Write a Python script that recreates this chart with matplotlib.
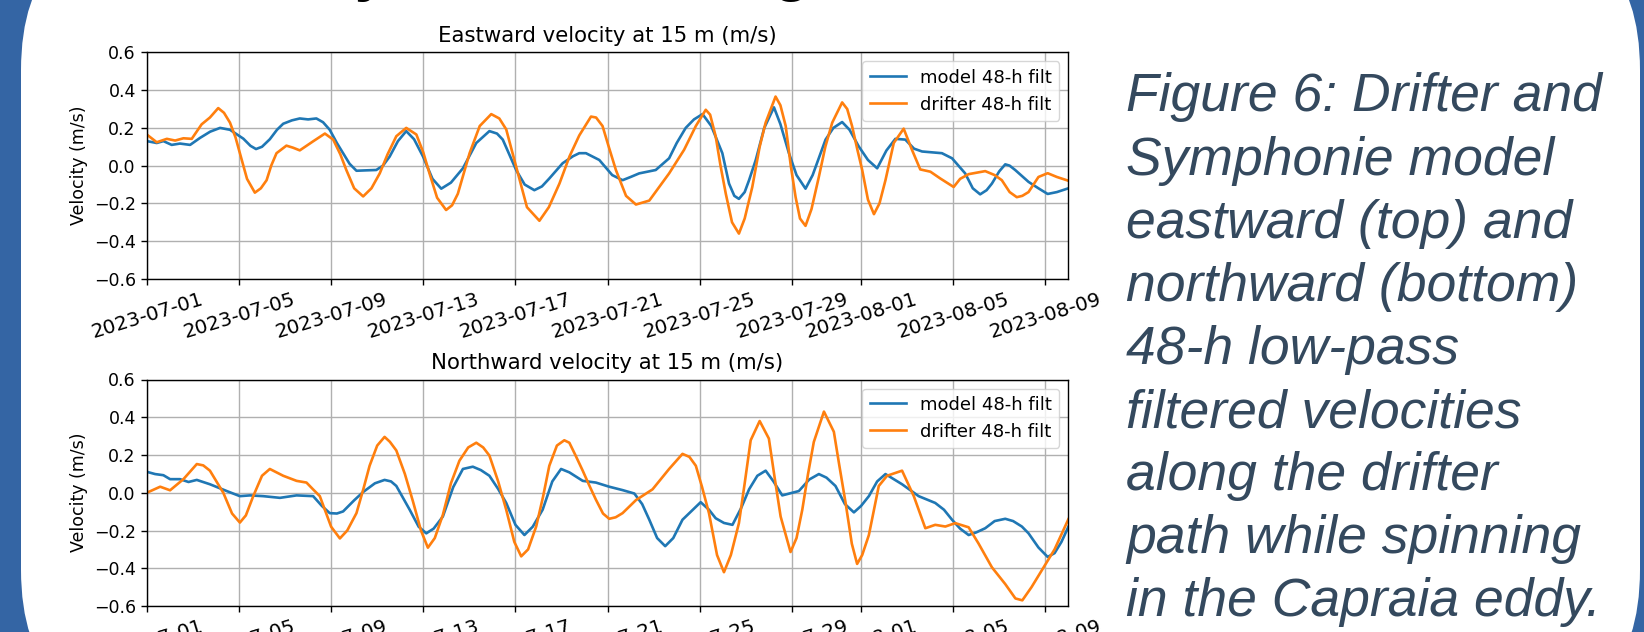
from datetime import datetime, timedelta

import matplotlib
matplotlib.use("Agg")
import matplotlib.dates as mdates
import matplotlib.patches as mpatches
from matplotlib import pyplot as plt
from matplotlib.transforms import IdentityTransform

W, H = 1644, 632
START = datetime(2023, 7, 1)

# days since 2023-07-01 and velocities (m/s)
east_model_day = [0, 0.43, 0.72, 1.08, 1.44, 1.88, 2.31, 2.75, 3.18, 3.61, 4.19,
                  4.5, 4.74, 5.0, 5.34, 5.65, 5.92, 6.3, 6.64, 7.0, 7.36, 7.65,
                  7.94, 8.25, 8.52, 8.8, 9.10, 9.5, 9.96, 10.25, 10.54, 10.9,
                  11.26, 11.6, 11.99, 12.4, 12.78, 13.2, 13.72, 14.3, 14.87, 15.2,
                  15.45, 16.03, 16.4, 16.82, 17.15, 17.47, 18.05, 18.5, 18.77,
                  19.06, 19.64, 20.2, 20.65, 21.0, 21.37, 22.09, 22.67, 23.0,
                  23.39, 23.75, 24.12, 24.5, 24.98, 25.27, 25.5, 25.70, 25.95,
                  26.14, 26.43, 26.8, 27.22, 27.5, 27.87, 28.2, 28.59, 28.9,
                  29.46, 29.8, 30.18, 30.5, 30.90, 31.3, 31.70, 32.1, 32.49,
                  32.92, 33.3, 33.65, 34.51, 34.95, 35.52, 35.85, 36.17, 36.45,
                  36.68, 37.0, 37.26, 37.45, 37.69, 38.27, 38.7, 39.1, 39.5, 40]
east_model = [0.13, 0.12, 0.13, 0.11, 0.117, 0.11, 0.147, 0.18, 0.20, 0.19, 0.143,
              0.105, 0.088, 0.1, 0.14, 0.19, 0.222, 0.24, 0.25, 0.245, 0.25, 0.23,
              0.19, 0.12, 0.066, 0.01, -0.027, -0.025, -0.023, 0.0, 0.048, 0.13,
              0.183, 0.14, 0.048, -0.07, -0.122, -0.09, -0.014, 0.12, 0.183, 0.17,
              0.138, -0.023, -0.1, -0.13, -0.11, -0.068, 0.013, 0.05, 0.066,
              0.066, 0.03, -0.05, -0.077, -0.06, -0.041, -0.023, 0.039, 0.12,
              0.20, 0.245, 0.273, 0.21, 0.066, -0.095, -0.16, -0.176, -0.14,
              -0.077, 0.03, 0.2, 0.309, 0.22, 0.066, -0.05, -0.122, -0.05,
              0.138, 0.2, 0.231, 0.19, 0.102, 0.03, -0.014, 0.08, 0.142,
              0.138, 0.09, 0.075, 0.066, 0.039, -0.041, -0.12, -0.152, -0.13,
              -0.095, -0.03, 0.007, 0.0, -0.023, -0.086, -0.12, -0.15, -0.14, -0.12]

east_drift_day = [0, 0.43, 0.87, 1.23, 1.59, 1.95, 2.38, 2.74, 3.10, 3.35, 3.61,
                  3.85, 4.04, 4.35, 4.69, 4.95, 5.20, 5.40, 5.63, 6.06, 6.35, 6.64,
                  7.22, 7.73, 8.09, 8.4, 8.66, 9.0, 9.39, 9.75, 10.11, 10.45, 10.83,
                  11.26, 11.70, 12.0, 12.27, 12.6, 12.99, 13.25, 13.50, 14.01,
                  14.45, 14.95, 15.30, 15.60, 16.03, 16.5, 17.04, 17.45, 17.91,
                  18.35, 18.77, 19.28, 19.50, 19.78, 20.05, 20.36, 20.8, 21.23,
                  21.81, 22.67, 23.32, 23.83, 24.26, 24.45, 24.69, 24.9, 25.13,
                  25.4, 25.70, 25.95, 26.28, 26.6, 26.86, 27.29, 27.5, 27.73,
                  27.95, 28.16, 28.35, 28.59, 28.85, 29.17, 29.45, 29.75, 30.18,
                  30.4, 30.61, 30.85, 31.05, 31.3, 31.56, 31.8, 32.06, 32.42,
                  32.85, 33.21, 33.57, 34.01, 34.44, 35.02, 35.3, 35.67, 36.39,
                  36.8, 37.11, 37.45, 37.76, 38.0, 38.27, 38.7, 39.1, 39.5, 40]
east_drift = [0.165, 0.124, 0.142, 0.133, 0.145, 0.142, 0.219, 0.255, 0.305, 0.28,
              0.228, 0.15, 0.066, -0.07, -0.143, -0.12, -0.077, 0.0, 0.066, 0.106,
              0.095, 0.081, 0.129, 0.170, 0.138, 0.06, -0.023, -0.12, -0.163,
              -0.12, -0.041, 0.06, 0.156, 0.20, 0.165, 0.07, -0.041, -0.17,
              -0.235, -0.21, -0.149, 0.066, 0.21, 0.273, 0.25, 0.192, -0.005,
              -0.22, -0.292, -0.22, -0.095, 0.05, 0.16, 0.26, 0.255, 0.21, 0.1,
              -0.023, -0.16, -0.206, -0.185, -0.041, 0.084, 0.21, 0.296, 0.27,
              0.156, 0.0, -0.149, -0.3, -0.36, -0.28, -0.113, 0.1, 0.228, 0.366,
              0.32, 0.21, 0.0, -0.167, -0.28, -0.319, -0.23, -0.059, 0.1, 0.228,
              0.335, 0.3, 0.21, 0.08, -0.023, -0.18, -0.257, -0.2, -0.077, 0.12,
              0.196, 0.084, -0.02, -0.032, -0.068, -0.113, -0.07, -0.045, -0.029,
              -0.05, -0.077, -0.14, -0.167, -0.16, -0.14, -0.06, -0.04, -0.06,
              -0.08]

north_model_day = [0, 0.36, 0.72, 1.01, 1.44, 1.81, 2.17, 2.74, 3.47, 4.04, 4.48,
                   5.05, 5.78, 6.50, 7.22, 7.6, 7.94, 8.25, 8.52, 9.0, 9.39, 9.9,
                   10.32, 10.6, 10.83, 11.41, 11.8, 12.13, 12.45, 12.85, 13.3,
                   13.72, 14.15, 14.5, 14.87, 15.25, 15.60, 16.0, 16.39, 16.75,
                   17.18, 17.6, 17.98, 18.34, 18.92, 19.49, 20.07, 20.65, 21.16,
                   21.5, 21.81, 22.15, 22.50, 22.85, 23.25, 24.04, 24.4, 24.69,
                   25.05, 25.42, 25.8, 26.14, 26.5, 26.86, 27.2, 27.58, 28.30,
                   28.75, 29.17, 29.5, 29.89, 30.3, 30.69, 31.0, 31.34, 31.7,
                   32.06, 32.78, 33.50, 34.22, 34.6, 34.95, 35.3, 35.67, 36.0,
                   36.39, 36.8, 37.26, 37.6, 37.98, 38.27, 38.7, 39.1, 39.4, 39.7,
                   40]
north_model = [0.111, 0.099, 0.093, 0.072, 0.072, 0.057, 0.068, 0.045, 0.009,
               -0.018, -0.014, -0.018, -0.027, -0.014, -0.018, -0.07, -0.108,
               -0.11, -0.099, -0.04, 0.004, 0.05, 0.068, 0.06, 0.036, -0.09,
               -0.18, -0.215, -0.19, -0.126, 0.03, 0.126, 0.138, 0.12, 0.09,
               0.02, -0.054, -0.17, -0.224, -0.18, -0.09, 0.06, 0.126, 0.108,
               0.063, 0.054, 0.032, 0.014, -0.004, -0.06, -0.143, -0.24, -0.283,
               -0.24, -0.143, -0.05, -0.09, -0.135, -0.16, -0.17, -0.08, 0.018,
               0.09, 0.117, 0.06, -0.014, 0.009, 0.07, 0.099, 0.08, 0.036, -0.06,
               -0.104, -0.07, -0.018, 0.06, 0.099, 0.045, -0.018, -0.054, -0.09,
               -0.143, -0.19, -0.224, -0.21, -0.188, -0.15, -0.138, -0.15,
               -0.179, -0.215, -0.29, -0.34, -0.32, -0.26, -0.18]

north_drift_day = [0, 0.58, 1.01, 1.59, 2.17, 2.45, 2.74, 3.32, 3.7, 4.04, 4.3,
                   4.62, 5.0, 5.34, 5.92, 6.50, 6.93, 7.2, 7.51, 8.0, 8.38, 8.7,
                   9.10, 9.4, 9.67, 10.0, 10.32, 10.55, 10.83, 11.2, 11.55, 11.9,
                   12.20, 12.5, 12.85, 13.2, 13.57, 13.95, 14.30, 14.6, 14.87,
                   15.25, 15.60, 15.95, 16.25, 16.55, 16.90, 17.2, 17.47, 17.8,
                   18.12, 18.34, 18.6, 18.92, 19.2, 19.49, 19.8, 20.07, 20.35,
                   20.65, 21.23, 21.95, 22.67, 23.25, 23.55, 23.83, 24.1, 24.40,
                   24.75, 25.05, 25.35, 25.70, 25.95, 26.21, 26.60, 27.00, 27.25,
                   27.51, 27.94, 28.2, 28.45, 28.7, 28.95, 29.39, 29.82, 30.05,
                   30.33, 30.6, 30.83, 31.05, 31.34, 31.77, 32.13, 32.78, 33.29,
                   33.79, 34.22, 34.66, 35.09, 35.67, 36.10, 36.68, 37.26, 37.7,
                   38.0, 38.4, 38.9, 39.4, 40]
north_drift = [0.0, 0.032, 0.013, 0.072, 0.152, 0.145, 0.117, 0.0, -0.11, -0.158,
               -0.12, -0.018, 0.09, 0.126, 0.09, 0.063, 0.054, 0.02, -0.018, -0.18,
               -0.242, -0.2, -0.108, 0.02, 0.143, 0.25, 0.296, 0.27, 0.224, 0.1,
               -0.045, -0.2, -0.291, -0.24, -0.117, 0.05, 0.170, 0.24, 0.265,
               0.24, 0.197, 0.06, -0.09, -0.26, -0.337, -0.3, -0.179, -0.02,
               0.143, 0.25, 0.278, 0.265, 0.2, 0.117, 0.04, -0.036, -0.11,
               -0.138, -0.13, -0.108, -0.039, 0.018, 0.126, 0.206, 0.19, 0.143,
               0.03, -0.108, -0.33, -0.421, -0.33, -0.161, 0.05, 0.278, 0.380,
               0.287, 0.08, -0.126, -0.314, -0.24, -0.09, 0.1, 0.269, 0.43, 0.323,
               0.15, -0.054, -0.27, -0.377, -0.33, -0.224, 0.036, 0.09, 0.117,
               -0.018, -0.188, -0.17, -0.179, -0.161, -0.183, -0.269, -0.395,
               -0.484, -0.56, -0.57, -0.5, -0.4, -0.3, -0.14]

panel_titles = ["Eastward velocity at 15 m (m/s)", "Northward velocity at 15 m (m/s)"]
legend_labels = ["model 48-h filt", "drifter 48-h filt"]
y_label = "Velocity (m/s)"
header = "Velocity and modelling"
caption_lines = ["Figure 6: Drifter and", "Symphonie model", "eastward (top) and",
                 "northward (bottom)", "48-h low-pass", "filtered velocities",
                 "along the drifter", "path while spinning", "in the Capraia eddy."]

BORDER = "#3465a4"
CAPTION = "#34495e"


def to_dates(days):
    return [START + timedelta(days=d) for d in days]


def draw_panel(ax, title, model_day, model, drift_day, drift):
    ax.plot(to_dates(model_day), model, color="tab:blue", lw=1.9, label=legend_labels[0])
    ax.plot(to_dates(drift_day), drift, color="tab:orange", lw=1.9, label=legend_labels[1])
    ax.set_xlim(START, START + timedelta(days=40))
    ax.set_ylim(-0.6, 0.6)
    ax.set_yticks([-0.6, -0.4, -0.2, 0.0, 0.2, 0.4, 0.6])
    ax.xaxis.set_major_locator(mdates.DayLocator(bymonthday=range(1, 32, 4)))
    ax.xaxis.set_major_formatter(mdates.DateFormatter("%Y-%m-%d"))
    ax.grid(True, color="#b0b0b0", lw=1.0)
    ax.set_title(title, fontsize=15.3, pad=7.6)
    ax.set_ylabel(y_label, fontsize=12.5)
    ax.tick_params(axis="y", labelsize=12.5, length=4.4, width=1.0)
    ax.tick_params(axis="x", labelsize=14.3, length=4.4, width=1.0, labelrotation=17)
    for s in ax.spines.values():
        s.set_linewidth(1.0)
    ax.legend(loc="upper right", fontsize=13, framealpha=0.8)


fig = plt.figure(figsize=(W / 100, H / 100), dpi=100)
fig.patch.set_facecolor(BORDER)

# white poster panel with rounded lower corners
panel = mpatches.FancyBboxPatch((21, -88), 1640 - 21, 800,
                                boxstyle="round,pad=0,rounding_size=150",
                                transform=IdentityTransform(), facecolor="white",
                                edgecolor="none", zorder=-10)
fig.add_artist(panel)

ax_left = 146.8 / W
ax_w = (1068.4 - 146.8) / W
ax_h = (278.9 - 52.4) / H
ax1 = fig.add_axes([ax_left, 1 - 278.9 / H, ax_w, ax_h])
ax2 = fig.add_axes([ax_left, 1 - 606.0 / H, ax_w, ax_h])

draw_panel(ax1, panel_titles[0], east_model_day, east_model, east_drift_day, east_drift)
draw_panel(ax2, panel_titles[1], north_model_day, north_model, north_drift_day, north_drift)

# section heading, cut off by the top edge: only the descenders show
fig.text(162 / W, 1 + 10 / H, header, fontsize=43, fontweight="bold", color="black",
         family=["Liberation Sans", "DejaVu Sans"], va="baseline", ha="left")

for k, line in enumerate(caption_lines):
    fig.text(1126 / W, 1 - (111.5 + 63.1 * k) / H, line, fontsize=38.5, style="italic",
             color=CAPTION, family=["Liberation Sans", "DejaVu Sans"],
             va="baseline", ha="left")

fig.savefig("out.png", dpi=100, facecolor=fig.get_facecolor())
